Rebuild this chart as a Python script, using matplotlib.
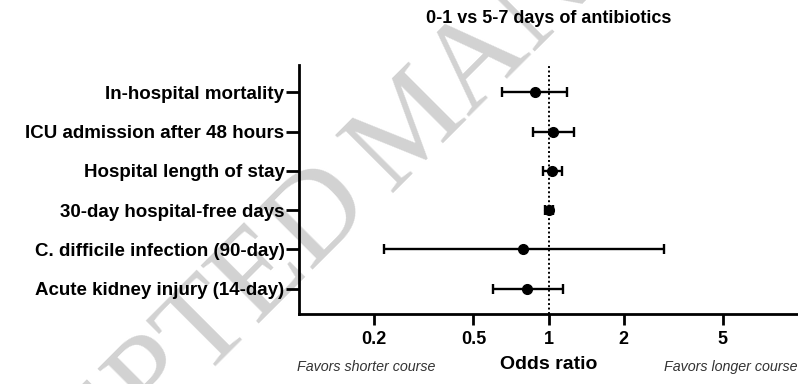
import numpy as np
import matplotlib
matplotlib.use("Agg")
import matplotlib.pyplot as plt

plt.rcParams['font.family'] = ['Liberation Sans', 'DejaVu Sans']

# data (odds ratio, 95% CI)
outcomes = [
    "In-hospital mortality",
    "ICU admission after 48 hours",
    "Hospital length of stay",
    "30-day hospital-free days",
    "C. difficile infection (90-day)",
    "Acute kidney injury (14-day)",
]
odds = [0.88, 1.04, 1.035, 1.0, 0.79, 0.82]
ci_low = [0.65, 0.87, 0.95, 0.97, 0.22, 0.60]
ci_high = [1.19, 1.26, 1.135, 1.04, 2.90, 1.14]
xticks = [0.2, 0.5, 1, 2, 5]
xtick_labels = ["0.2", "0.5", "1", "2", "5"]

fig = plt.figure(figsize=(7.98, 3.84), dpi=100)
ax = fig.add_axes([299 / 798, 70 / 384, 499 / 798, 249 / 384])

# watermark from the source page
wm = dict(fontsize=90, family='Liberation Serif', color='#d2d2d2',
          rotation=45, rotation_mode='anchor', va='baseline', zorder=-1)
fig.text(375 / 798, 177 / 384, "ACCEPTED", ha='right', **wm)
fig.text(390 / 798, 191 / 384, "MANUSCRIPT", ha='left', **wm)

ypos = np.arange(len(outcomes))[::-1] + 1
odds = np.array(odds)
err = [odds - np.array(ci_low), np.array(ci_high) - odds]

ax.axvline(1, color='black', linestyle=(0, (1, 1.3)), linewidth=1.4, zorder=1)
ax.errorbar(odds, ypos, xerr=err, fmt='o', color='black', ecolor='black',
            markersize=7, elinewidth=1.7, capsize=3.8, capthick=1.7, zorder=3)

ax.set_xscale('log')
ax.set_xlim(0.1, 10)
ax.set_ylim(0.35, 6.7)
ax.set_xticks(xticks)
ax.set_xticklabels(xtick_labels, fontsize=13, fontweight='bold')
ax.minorticks_off()
ax.set_yticks(ypos)
ax.set_yticklabels(outcomes, fontsize=13.5, fontweight='bold')

ax.patch.set_alpha(0)
for s in ['top', 'right']:
    ax.spines[s].set_visible(False)
for s in ['left', 'bottom']:
    ax.spines[s].set_linewidth(2.0)
ax.tick_params(axis='y', length=9.5, width=2.0, pad=1)
ax.tick_params(axis='x', length=8, width=2.0, pad=4)

ax.set_xlabel("Odds ratio", fontsize=14, fontweight='bold', labelpad=6)
ax.set_title("0-1 vs 5-7 days of antibiotics", fontsize=13,
             fontweight='bold', pad=30)

fig.text(297 / 798, 17 / 384, "Favors shorter course", fontsize=10.3,
         style='italic', color='#333333', ha='left', va='center')
fig.text(797 / 798, 17 / 384, "Favors longer course", fontsize=10.3,
         style='italic', color='#333333', ha='right', va='center')

fig.savefig("out.png", dpi=100)
